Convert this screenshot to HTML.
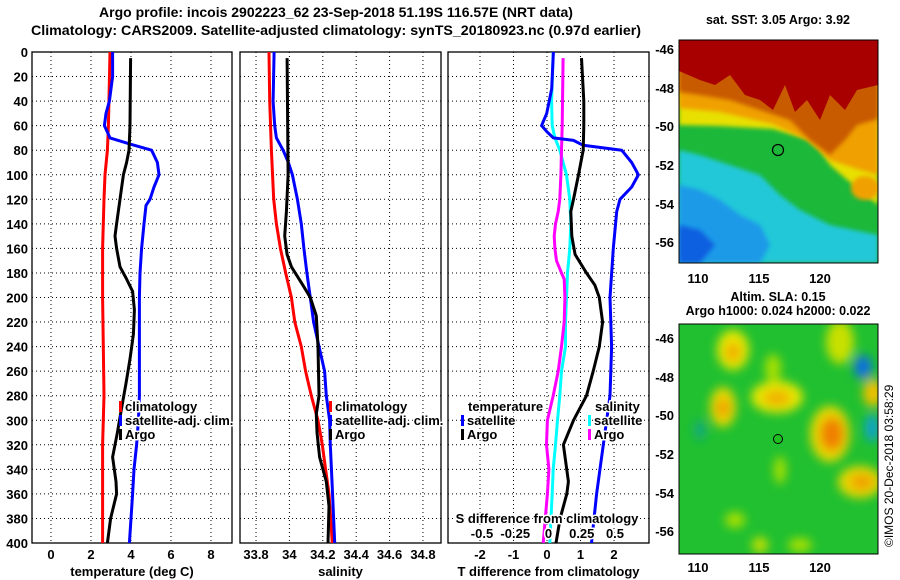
<!DOCTYPE html>
<html><head><meta charset="utf-8">
<style>
body{margin:0;background:#fff;}
svg{display:block;font-family:"Liberation Sans",Arial,sans-serif;font-weight:bold;}
.halo{paint-order:stroke;stroke:#fff;stroke-width:3px;stroke-linejoin:round;}
</style></head>
<body>
<svg id="chart" width="900" height="580" viewBox="0 0 900 580" xmlns="http://www.w3.org/2000/svg">
<text x="336" y="17" font-size="14" text-anchor="middle">Argo profile: incois 2902223_62 23-Sep-2018 51.19S 116.57E (NRT data)</text>
<text x="336" y="35" font-size="14" text-anchor="middle" textLength="610" lengthAdjust="spacingAndGlyphs">Climatology: CARS2009. Satellite-adjusted climatology: synTS_20180923.nc (0.97d earlier)</text>

<g id="maps">
<text x="778" y="24" font-size="12.5" text-anchor="middle">sat. SST: 3.05 Argo: 3.92</text>
<defs>
<clipPath id="c1"><rect x="679" y="40" width="199" height="223"/></clipPath>
<clipPath id="c2"><rect x="679" y="324" width="199" height="230"/></clipPath>
<filter id="bl"><feGaussianBlur stdDeviation="5"/></filter>
<filter id="bl2"><feGaussianBlur stdDeviation="2"/></filter>
</defs>
<g clip-path="url(#c1)">
<rect x="679" y="40" width="199" height="223" fill="#1cb83a"/>
<polygon points="679,150 700,155 730,165 760,175 780,195 800,210 830,225 878,235 878,263 679,263" fill="#22c8d8" filter="url(#bl2)"/>
<polygon points="679,185 700,190 720,200 740,215 760,225 770,245 760,263 679,263" fill="#1a9ae8" filter="url(#bl2)"/>
<polygon points="679,225 700,230 715,245 700,263 679,263" fill="#1060e0" filter="url(#bl2)"/>
<polygon points="679,125 720,126 773,129 807,139 820,150 830,165 845,178 878,205 878,40 679,40" fill="#e8e000" filter="url(#bl2)"/>
<polygon points="679,108 720,112 773,124 807,140 830,160 860,170 878,175 878,40 679,40" fill="#f0a000" filter="url(#bl2)"/>
<polygon points="679,92 700,95 730,100 760,110 790,120 810,140 830,155 845,140 857,125 878,119 878,40 679,40" fill="#c85a00" filter="url(#bl2)"/>
<polygon points="679,71 700,80 715,85 730,75 745,95 760,100 773,110 785,85 795,112 807,100 820,120 830,95 845,110 857,90 878,85 878,40 679,40" fill="#a80000"/>
<ellipse cx="865" cy="188" rx="14" ry="12" fill="#f0a000" filter="url(#bl2)"/>
<circle cx="778" cy="150" r="5.5" fill="none" stroke="#000" stroke-width="1.2"/>
</g>
<rect x="679" y="40" width="199" height="223" fill="none" stroke="#000"/>
<g font-size="13" text-anchor="end">
<text x="674" y="54">-46</text><text x="674" y="93">-48</text><text x="674" y="131">-50</text><text x="674" y="170">-52</text><text x="674" y="209">-54</text><text x="674" y="247">-56</text>
</g>
<g font-size="13" text-anchor="middle">
<text x="698" y="283">110</text><text x="759" y="283">115</text><text x="820" y="283">120</text>
</g>
<text x="778" y="301" font-size="12.5" text-anchor="middle">Altim. SLA: 0.15</text>
<text x="778" y="315" font-size="12.5" text-anchor="middle">Argo h1000: 0.024 h2000: 0.022</text>
<g clip-path="url(#c2)">
<rect x="679" y="324" width="199" height="230" fill="#20c030"/>
<g filter="url(#bl)">
<ellipse cx="733" cy="350" rx="16" ry="20" fill="#e8e800"/>
<ellipse cx="733" cy="352" rx="8" ry="10" fill="#f0b000"/>
<ellipse cx="777" cy="397" rx="26" ry="16" fill="#e8e800"/>
<ellipse cx="777" cy="398" rx="14" ry="8" fill="#f0b000"/>
<ellipse cx="723" cy="407" rx="13" ry="20" fill="#e8d800"/>
<ellipse cx="723" cy="408" rx="7" ry="9" fill="#f0a000"/>
<ellipse cx="830" cy="434" rx="20" ry="28" fill="#e8d800"/>
<ellipse cx="832" cy="434" rx="12" ry="17" fill="#f08000"/>
<ellipse cx="860" cy="482" rx="22" ry="16" fill="#e8d800"/>
<ellipse cx="862" cy="482" rx="12" ry="8" fill="#f0a000"/>
<ellipse cx="840" cy="342" rx="14" ry="22" fill="#c8e000"/>
<ellipse cx="773" cy="368" rx="8" ry="14" fill="#a8e000"/>
<ellipse cx="873" cy="393" rx="10" ry="14" fill="#f0c000"/>
<ellipse cx="863" cy="367" rx="9" ry="12" fill="#1070e0"/>
<ellipse cx="872" cy="428" rx="7" ry="14" fill="#10a0d0"/>
<ellipse cx="700" cy="430" rx="6" ry="10" fill="#18a880"/>
<ellipse cx="735" cy="520" rx="10" ry="8" fill="#a8e000"/>
<ellipse cx="780" cy="470" rx="6" ry="14" fill="#a8e000"/>
<ellipse cx="800" cy="545" rx="12" ry="7" fill="#a8e000"/>
<ellipse cx="760" cy="545" rx="8" ry="8" fill="#c8e000"/>
</g>
<circle cx="778" cy="439" r="4.5" fill="#20c020" stroke="#000" stroke-width="1"/>
</g>
<rect x="679" y="324" width="199" height="230" fill="none" stroke="#000"/>
<g font-size="13" text-anchor="end">
<text x="674" y="343">-46</text><text x="674" y="382">-48</text><text x="674" y="420">-50</text><text x="674" y="459">-52</text><text x="674" y="498">-54</text><text x="674" y="536">-56</text>
</g>
<g font-size="13" text-anchor="middle">
<text x="698" y="572">110</text><text x="759" y="572">115</text><text x="820" y="572">120</text>
</g>
<text transform="translate(893,547) rotate(-90)" font-size="12" font-weight="normal">©IMOS 20-Dec-2018 03:58:29</text>
</g>
<g id="plots"></g>
</svg>
<script>
const tempClimDepth=[0,60,80,100,120,160,200,280,320,400];
const tempClim=[2.95,2.87,2.82,2.7,2.65,2.58,2.58,2.65,2.58,2.58];
const tempSatDepth=[0,20,40,50,60,70,75,80,90,100,110,120,125,140,160,180,200,280,300,320,340,360,380,400];
const tempSat=[3.08,3.08,2.92,2.75,2.67,2.95,3.95,5.03,5.32,5.4,5.15,4.95,4.75,4.65,4.53,4.45,4.42,4.42,4.37,4.28,4.15,4.08,4.0,3.92];
const tempArgoDepth=[5,60,80,90,100,120,140,150,160,175,185,195,210,230,250,270,290,310,330,350,360,380,400];
const tempArgo=[3.98,3.95,3.9,3.78,3.62,3.45,3.28,3.2,3.28,3.45,3.78,4.08,4.17,4.12,3.95,3.75,3.53,3.32,3.08,3.25,3.28,2.98,2.82];

const salClimDepth=[0,40,80,120,140,160,180,200,220,240,260,280,290,300,320,340,360,400];
const salClim=[33.878,33.882,33.892,33.906,33.922,33.946,33.978,34.012,34.032,34.071,34.097,34.131,34.151,34.171,34.197,34.217,34.237,34.257];
const salSatDepth=[0,40,60,70,80,90,100,120,140,160,180,200,220,240,260,280,300,320,350,400];
const salSat=[33.908,33.902,33.912,33.922,33.962,33.994,34.018,34.048,34.071,34.087,34.105,34.125,34.145,34.177,34.211,34.221,34.241,34.245,34.255,34.271];
const salArgoDepth=[5,100,130,150,165,175,190,200,215,240,280,295,310,330,350,370,400];
const salArgo=[33.986,33.992,33.982,33.972,33.986,34.012,34.081,34.125,34.161,34.171,34.177,34.161,34.165,34.181,34.221,34.237,34.231];

const dTSatDepth=[0,30,50,60,65,70,72,76,80,90,100,110,120,130,160,200,240,280,320,360,400];
const dTSat=[0.19,0.14,-0.01,-0.16,0,0.19,0.79,1.08,2.23,2.53,2.73,2.53,2.18,2.08,1.98,1.88,1.93,1.88,1.68,1.48,1.33];
const dTArgoDepth=[5,40,60,80,100,120,130,150,165,180,190,200,220,240,260,280,300,320,350,360,380,400];
const dTArgo=[1.03,1.1,1.1,1.08,0.94,0.79,0.71,0.74,0.84,1.18,1.43,1.56,1.66,1.56,1.38,1.18,0.79,0.49,0.64,0.59,0.39,0.27];
const dSSatDepth=[0,40,60,70,80,100,120,140,160,180,200,220,240,260,280,300,320,340,360,400];
const dSSat=[0.035,0.023,0.028,0.048,0.085,0.135,0.16,0.168,0.16,0.143,0.135,0.128,0.128,0.098,0.085,0.068,0.053,0.035,0.028,0.01];
const dSArgoDepth=[5,60,80,100,120,130,140,150,160,170,180,185,200,220,240,260,280,300,320,340,360,400];
const dSArgo=[0.11,0.103,0.098,0.093,0.085,0.073,0.053,0.043,0.048,0.06,0.098,0.118,0.123,0.118,0.098,0.073,0.035,-0.008,-0.015,0.003,-0.008,-0.04];

const depthTicks=[0,20,40,60,80,100,120,140,160,180,200,220,240,260,280,300,320,340,360,380,400];
const tempTicks=[0,2,4,6,8];
const salTicks=[33.8,34,34.2,34.4,34.6,34.8];
const salTickLabels=["33.8","34","34.2","34.4","34.6","34.8"];
const dTTicks=[-2,-1,0,1,2];
const dSTicks=[-0.5,-0.25,0,0.25,0.5];
const dSTickLabels=["-0.5","-0.25","0","0.25","0.5"];

const NS='http://www.w3.org/2000/svg';
const root=document.getElementById('plots');
const Y0=52,Y1=543;
const yD=d=>Y0+d/400*(Y1-Y0);
function lin(d0,d1,r0,r1){return v=>r0+(v-d0)/(d1-d0)*(r1-r0);}
function mk(tag,attrs,parent){const e=document.createElementNS(NS,tag);for(const k in attrs)e.setAttribute(k,attrs[k]);(parent||root).appendChild(e);return e;}

const panels=[
 {x0:32,x1:232,sx:lin(-0.95,9.05,32,232),ticks:tempTicks,labels:tempTicks.map(String),title:'temperature (deg C)',name:'temperature'},
 {x0:240,x1:441,sx:lin(33.704,34.908,240,441),ticks:salTicks,labels:salTickLabels,title:'salinity',name:'salinity'},
 {x0:448,x1:649,sx:lin(-2.955,3.045,448,649),ticks:dTTicks,labels:dTTicks.map(String),title:'T difference from climatology',name:'difference'}
];
const sS=lin(-0.5,0.5,482,615);

panels.forEach((p,i)=>{
  const g=mk('g',{});
  
  
  depthTicks.forEach(d=>{
    const l=mk('line',{x1:p.x0,x2:p.x1,y1:yD(d),y2:yD(d),stroke:'#000','stroke-width':1,'stroke-dasharray':'1,3'},g);
    
    
  });
  p.ticks.forEach((t,j)=>{
    const x=p.sx(t);
    const l=mk('line',{x1:x,x2:x,y1:Y0,y2:Y1,stroke:'#000','stroke-width':1,'stroke-dasharray':'1,3'},g);
    
    
    const tx=mk('text',{x:x,y:559,'font-size':13,'text-anchor':'middle'},g);
    tx.textContent=p.labels[j];
    
    
  });
  const fr=mk('rect',{x:p.x0,y:Y0,width:p.x1-p.x0,height:Y1-Y0,fill:'none',stroke:'#000','stroke-width':1.3},g);
  
  
  const tt=mk('text',{x:(p.x0+p.x1)/2,y:576,'font-size':13,'text-anchor':'middle'},g);
  tt.textContent=p.title;
  
  
});
depthTicks.forEach(d=>{
  const t=mk('text',{x:28,y:yD(d)+5,'font-size':13,'text-anchor':'end'});
  t.textContent=d;
  
  
});

function series(depths,vals,sx,color,name){
  const pts=depths.map((d,i)=>sx(vals[i]).toFixed(1)+','+yD(d).toFixed(1)).join(' ');
  const pl=mk('polyline',{points:pts,fill:'none',stroke:color,'stroke-width':3,'stroke-linejoin':'round'});
  
  
}
const P=panels;
series(tempClimDepth,tempClim,P[0].sx,'#ff0000','temp-climatology-line');
series(tempSatDepth,tempSat,P[0].sx,'#0000ff','temp-satellite-line');
series(tempArgoDepth,tempArgo,P[0].sx,'#000000','temp-argo-line');
series(salClimDepth,salClim,P[1].sx,'#ff0000','sal-climatology-line');
series(salSatDepth,salSat,P[1].sx,'#0000ff','sal-satellite-line');
series(salArgoDepth,salArgo,P[1].sx,'#000000','sal-argo-line');
series(dSSatDepth,dSSat,sS,'#00ffff','sdiff-satellite-line');
series(dSArgoDepth,dSArgo,sS,'#ff00ff','sdiff-argo-line');
series(dTSatDepth,dTSat,P[2].sx,'#0000ff','tdiff-satellite-line');
series(dTArgoDepth,dTArgo,P[2].sx,'#000000','tdiff-argo-line');

function legend(x,y,color,label,name){
  const r=mk('rect',{x:x,y:y-10,width:3,height:11,fill:color});
  
  
  const t=mk('text',{x:x+6,y:y,'font-size':13,class:'halo'});
  t.textContent=label;
  
  
}
legend(119,411,'#ff0000','climatology','legend-climatology');
legend(119,425,'#0000ff','satellite-adj. clim.','legend-satellite');
legend(119,439,'#000000','Argo','legend-argo');
legend(329,411,'#ff0000','climatology','legend-sal-climatology');
legend(329,425,'#0000ff','satellite-adj. clim.','legend-sal-satellite');
legend(329,439,'#000000','Argo','legend-sal-argo');
const th=mk('text',{x:468,y:411,'font-size':13,class:'halo'});th.textContent='temperature';


legend(461,425,'#0000ff','satellite','legend-t-satellite');
legend(461,439,'#000000','Argo','legend-t-argo');
const sh=mk('text',{x:595,y:411,'font-size':13,class:'halo'});sh.textContent='salinity';


legend(588,425,'#00ffff','satellite','legend-s-satellite');
legend(588,439,'#ff00ff','Argo','legend-s-argo');
const sd=mk('text',{x:547,y:523,'font-size':13,'text-anchor':'middle',class:'halo'});sd.textContent='S difference from climatology';


dSTicks.forEach((t,j)=>{
  const e=mk('text',{x:sS(t),y:538,'font-size':13,'text-anchor':'middle',class:'halo'});
  e.textContent=dSTickLabels[j];
  
  
});
</script>
</body></html>
